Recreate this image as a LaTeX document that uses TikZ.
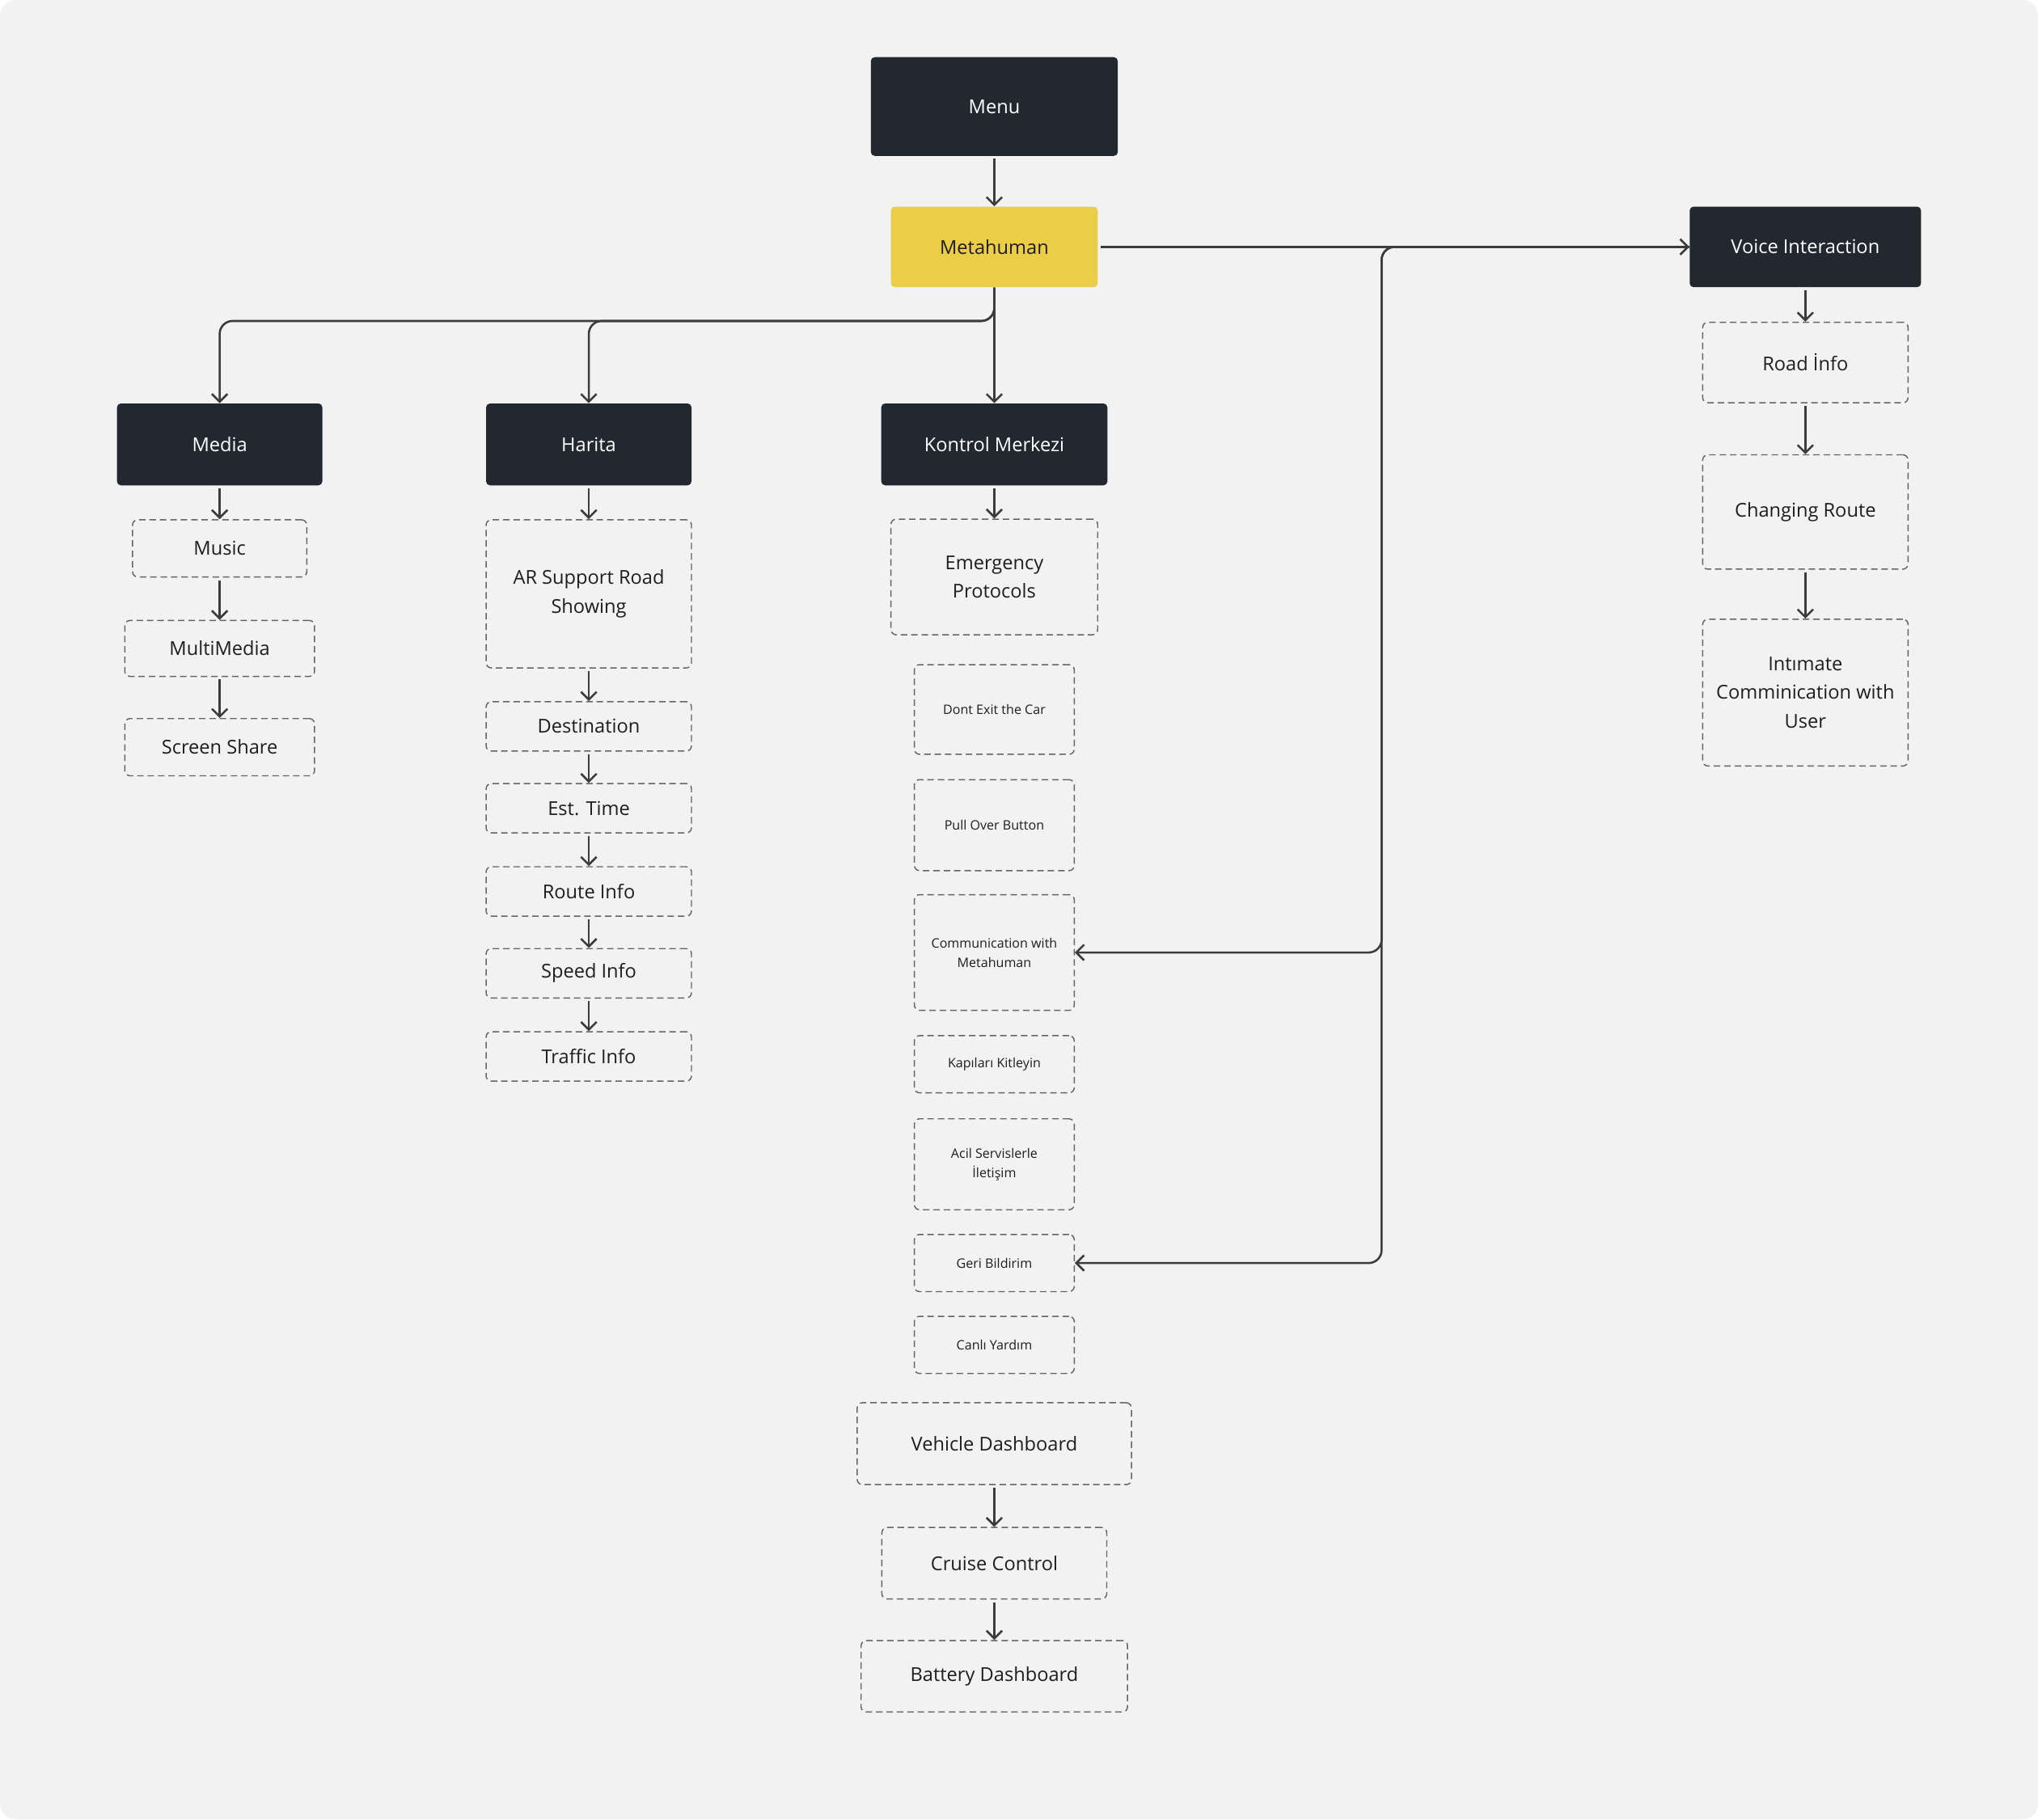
\documentclass[tikz,border=0pt]{standalone}
\usepackage{fontspec}
\setmainfont{Open Sans}
\usetikzlibrary{arrows.meta}
\definecolor{bgc}{RGB}{242,242,242}
\definecolor{darkbox}{RGB}{35,39,47}
\definecolor{yel}{RGB}{235,205,72}
\definecolor{lnc}{RGB}{60,60,60}
\definecolor{dashc}{RGB}{100,100,100}
\definecolor{txtc}{RGB}{30,30,30}
\begin{document}
\begin{tikzpicture}[x=1pt,y=-1pt,
  bigtxt/.style={font=\fontsize{14.7}{22}\selectfont, align=center},
  smalltxt/.style={font=\fontsize{10}{15}\selectfont, align=center},
  darkbox/.style={bigtxt, fill=darkbox, text=white, rounded corners=3pt, inner sep=0pt},
  yelbox/.style={bigtxt, fill=yel, text=txtc, rounded corners=3pt, inner sep=0pt},
  dbox/.style={draw=dashc, dash pattern=on 5pt off 3pt, line width=0.9pt, rounded corners=4pt, text=txtc, inner sep=0pt},
  conn/.style={draw=lnc, line width=1.6pt, -{Straight Barb[length=6pt,width=12pt]}},
  bus/.style={conn, rounded corners=10pt}
]
\useasboundingbox (0,0) rectangle (1568,1400);
\fill[white] (0,0) rectangle (1568,1400);
\fill[bgc, rounded corners=12pt] (0,0) rectangle (1568,1400);

% top
\node[darkbox, minimum width=190pt, minimum height=76pt] (menu) at (765,82) {Menu};
\node[yelbox, minimum width=159pt, minimum height=62pt] (meta) at (765,190) {Metahuman};
\node[darkbox, minimum width=178pt, minimum height=62pt] (voice) at (1389,190) {Voice Interaction};

% voice column
\node[dbox, bigtxt, minimum width=158pt, minimum height=62pt] (road) at (1389,279) {Road İnfo};
\node[dbox, bigtxt, minimum width=158pt, minimum height=88pt] (chg) at (1389,394) {Changing Route};
\node[dbox, bigtxt, minimum width=158pt, minimum height=113pt] (intim) at (1389,533) {Intımate\\Comminication with\\User};

% media column
\node[darkbox, minimum width=158pt, minimum height=63pt] (media) at (169,342) {Media};
\node[dbox, bigtxt, minimum width=134pt, minimum height=44pt] (music) at (169,422) {Music};
\node[dbox, bigtxt, minimum width=146pt, minimum height=43pt] (multi) at (169,499) {MultiMedia};
\node[dbox, bigtxt, minimum width=146pt, minimum height=44pt] (screen) at (169,575) {Screen Share};

% harita column
\node[darkbox, minimum width=158pt, minimum height=63pt] (harita) at (453,342) {Harita};
\node[dbox, bigtxt, minimum width=158pt, minimum height=114pt] (ar) at (453,457) {AR Support Road\\Showing};
\node[dbox, bigtxt, minimum width=158pt, minimum height=38pt] (dest) at (453,559) {Destination};
\node[dbox, bigtxt, minimum width=158pt, minimum height=38pt] (est) at (453,622) {Est. Time};
\node[dbox, bigtxt, minimum width=158pt, minimum height=38pt] (route) at (453,686) {Route Info};
\node[dbox, bigtxt, minimum width=158pt, minimum height=38pt] (speed) at (453,749) {Speed Info};
\node[dbox, bigtxt, minimum width=158pt, minimum height=38pt] (traffic) at (453,813) {Traffic Info};

% kontrol column
\node[darkbox, minimum width=174pt, minimum height=63pt] (kontrol) at (765,342) {Kontrol Merkezi};
\node[dbox, bigtxt, minimum width=159pt, minimum height=89pt] (emerg) at (765,444) {Emergency\\Protocols};
\node[dbox, smalltxt, minimum width=123pt, minimum height=69pt] (dont) at (765,546) {Dont Exit the Car};
\node[dbox, smalltxt, minimum width=123pt, minimum height=70pt] (pull) at (765,635) {Pull Over Button};
\node[dbox, smalltxt, minimum width=123pt, minimum height=89pt] (comm) at (765,733) {Communication with\\Metahuman};
\node[dbox, smalltxt, minimum width=123pt, minimum height=44pt] (kapi) at (765,819) {Kapıları Kitleyin};
\node[dbox, smalltxt, minimum width=123pt, minimum height=70pt] (acil) at (765,896) {Acil Servislerle\\İletişim};
\node[dbox, smalltxt, minimum width=123pt, minimum height=44pt] (geri) at (765,972) {Geri Bildirim};
\node[dbox, smalltxt, minimum width=123pt, minimum height=44pt] (canli) at (765,1035) {Canlı Yardım};
\node[dbox, bigtxt, minimum width=211pt, minimum height=63pt] (vehicle) at (765,1111) {Vehicle Dashboard};
\node[dbox, bigtxt, minimum width=173pt, minimum height=55pt] (cruise) at (765,1203) {Cruise Control};
\node[dbox, bigtxt, minimum width=205pt, minimum height=55pt] (battery) at (765,1290) {Battery Dashboard};

% helper coordinates
\coordinate (busl) at (765,247);
\coordinate (vtop) at (1063,190);
\coordinate (vmid) at (1063,733);
\coordinate (vbot) at (1063,972);

% connectors
\draw[conn, shorten <=2pt] (menu) -- (meta);
\draw[conn, shorten <=2pt] (meta.east) -- (voice.west);
\draw[conn] (meta.south) -- (kontrol.north);
\draw[bus] (meta.south) -- (busl) -| (harita.north);
\draw[bus] (meta.south) -- (busl) -| (media.north);
\draw[bus] (voice.west) -- (vtop) -- (vmid) -- (comm.east);
\draw[bus] (voice.west) -- (vtop) -- (vbot) -- (geri.east);

\foreach \a/\b in {voice/road, road/chg, chg/intim,
  media/music, music/multi, multi/screen,
  harita/ar, ar/dest, dest/est, est/route, route/speed, speed/traffic,
  kontrol/emerg, vehicle/cruise, cruise/battery}
  \draw[conn, shorten <=2pt] (\a.south) -- (\b.north);
\end{tikzpicture}
\end{document}
